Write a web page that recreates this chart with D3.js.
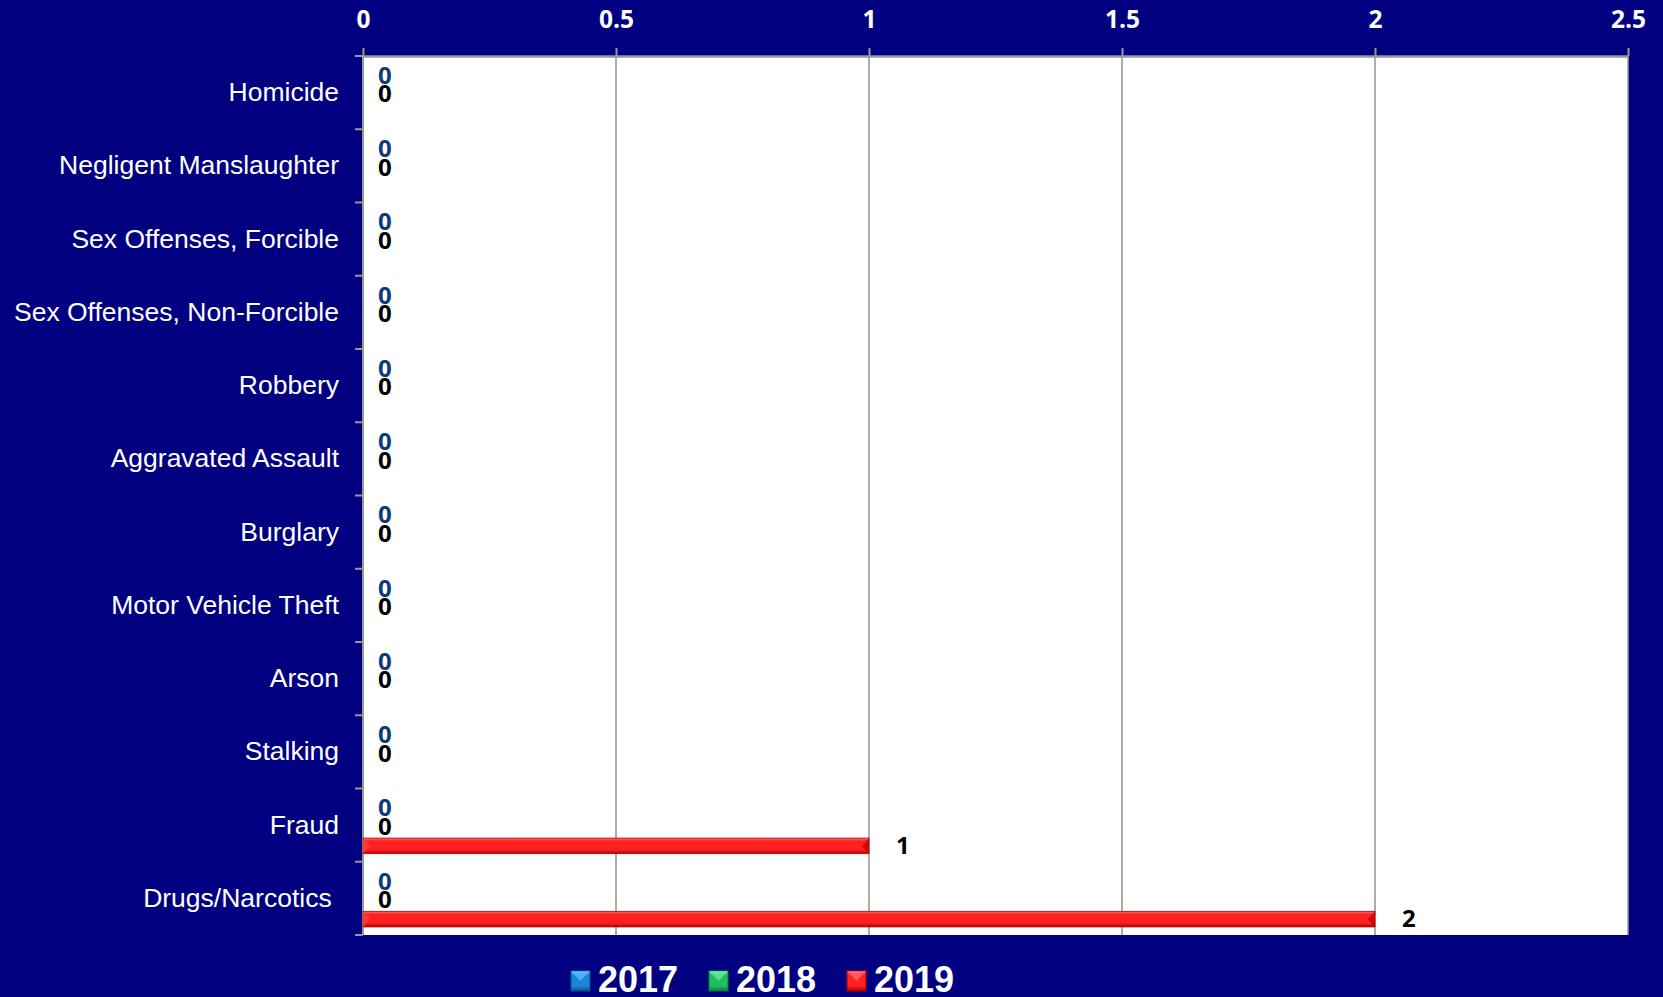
<!DOCTYPE html>
<html>
<head>
<meta charset="utf-8">
<script src="https://cdn.jsdelivr.net/npm/d3@7"></script>
<style>
  html, body { margin: 0; padding: 0; background: #000080; }
  svg { display: block; }
</style>
</head>
<body>
<svg id="chart" width="1663" height="997"></svg>
<script>
const categories = ["Homicide", "Negligent Manslaughter", "Sex Offenses, Forcible", "Sex Offenses, Non-Forcible",
  "Robbery", "Aggravated Assault", "Burglary", "Motor Vehicle Theft", "Arson", "Stalking", "Fraud", "Drugs/Narcotics "];
const series = ["2017", "2018", "2019"];
const values2017 = [0, 0, 0, 0, 0, 0, 0, 0, 0, 0, 0, 0];
const values2018 = [0, 0, 0, 0, 0, 0, 0, 0, 0, 0, 0, 0];
const values2019 = [0, 0, 0, 0, 0, 0, 0, 0, 0, 0, 1, 2];
const xTicks = [0, 0.5, 1, 1.5, 2, 2.5];

const seriesValues = { "2017": values2017, "2018": values2018, "2019": values2019 };
const seriesColors = {
  "2017": ["#5cc0ff", "#1a86d6", "#0b4f8a"],
  "2018": ["#6ff0a0", "#1fbf5c", "#0b7a38"],
  "2019": ["#ff7070", "#ff2020", "#a80000"]
};
const labelColors = { "2017": "#0f3a78", "2018": "#000000", "2019": "#000000" };

const svg = d3.select("#chart");
const W = 1663, H = 997;
const plot = { left: 363, right: 1628, top: 56, bottom: 935 };

svg.append("rect").attr("width", W).attr("height", H).attr("fill", "#000080");

const defs = svg.append("defs");
series.forEach(s => {
  const c = seriesColors[s];
  const g = defs.append("linearGradient").attr("id", "grad" + s)
    .attr("x1", 0).attr("y1", 0).attr("x2", 0).attr("y2", 1);
  g.append("stop").attr("offset", "0%").attr("stop-color", c[0]);
  g.append("stop").attr("offset", "20%").attr("stop-color", c[1]);
  g.append("stop").attr("offset", "75%").attr("stop-color", c[1]);
  g.append("stop").attr("offset", "100%").attr("stop-color", c[2]);
});

const x = d3.scaleLinear().domain([0, 2.5]).range([plot.left, plot.right]);
const y = d3.scaleBand().domain(categories).range([plot.top, plot.bottom]).padding(0);
const bw = y.bandwidth();
const ySub = d3.scaleBand().domain(series).range([bw * 0.25, bw * 0.89]).padding(0);

// plot area
svg.append("rect")
  .attr("x", plot.left).attr("y", plot.top)
  .attr("width", plot.right - plot.left).attr("height", plot.bottom - plot.top)
  .attr("fill", "#ffffff");

// gridlines
svg.append("g").selectAll("line").data(xTicks).join("line")
  .attr("x1", d => x(d)).attr("x2", d => x(d))
  .attr("y1", plot.top).attr("y2", plot.bottom)
  .attr("stroke", "#999999").attr("stroke-width", 1.6);

// top axis
const xAxis = svg.append("g").attr("transform", `translate(0,${plot.top})`)
  .call(d3.axisTop(x).tickValues(xTicks).tickFormat(d => d).tickSize(8).tickPadding(20).tickSizeOuter(0));
xAxis.select(".domain").attr("stroke", "#999999").attr("stroke-width", 2.5);
xAxis.selectAll(".tick line").attr("stroke", "#999999").attr("stroke-width", 2);
xAxis.selectAll(".tick text")
  .attr("fill", "#ffffff").attr("font-family", "'Open Sans', Lato, sans-serif")
  .attr("font-weight", "bold").attr("font-size", 24.5);

// left axis line and boundary ticks
svg.append("line")
  .attr("x1", plot.left).attr("x2", plot.left).attr("y1", plot.top).attr("y2", plot.bottom)
  .attr("stroke", "#999999").attr("stroke-width", 2);
const boundaries = categories.map(c => y(c)).concat([plot.bottom]);
svg.append("g").selectAll("line").data(boundaries).join("line")
  .attr("x1", plot.left - 8).attr("x2", plot.left)
  .attr("y1", d => d).attr("y2", d => d)
  .attr("stroke", "#999999").attr("stroke-width", 2);

const yAxis = svg.append("g").attr("transform", `translate(${plot.left},0)`)
  .call(d3.axisLeft(y).tickSize(0).tickPadding(24));
yAxis.select(".domain").remove();
yAxis.selectAll(".tick text")
  .attr("fill", "#ffffff").attr("font-family", "'Liberation Sans', Arial, sans-serif")
  .attr("font-size", 26.5).style("white-space", "pre");

// bars
const barData = [];
series.forEach(s => {
  categories.forEach((c, i) => barData.push({ s, c, v: seriesValues[s][i] }));
});
const nonZero = barData.filter(d => d.v > 0);

svg.append("g").selectAll("rect").data(nonZero).join("rect")
  .attr("x", x(0))
  .attr("y", d => y(d.c) + ySub(d.s))
  .attr("width", d => x(d.v) - x(0))
  .attr("height", ySub.bandwidth())
  .attr("fill", d => `url(#grad${d.s})`)
  .attr("stroke", d => seriesColors[d.s][2]).attr("stroke-width", 0.8);

// bevel at bar ends
svg.append("g").selectAll("path").data(nonZero).join("path")
  .attr("d", d => {
    const x1 = x(d.v), y0 = y(d.c) + ySub(d.s), h = ySub.bandwidth();
    return `M${x1},${y0} L${x1 - 7},${y0 + h / 2} L${x1},${y0 + h} Z`;
  })
  .attr("fill", "#c80000").attr("opacity", 0.8);
svg.append("g").selectAll("path").data(nonZero).join("path")
  .attr("d", d => {
    const x0 = x(0), y0 = y(d.c) + ySub(d.s), h = ySub.bandwidth();
    return `M${x0},${y0} L${x0 + 7},${y0 + h / 2} L${x0},${y0 + h} Z`;
  })
  .attr("fill", "#ff4040").attr("opacity", 0.8);

// data labels
const labelOffset = { "2017": -7, "2018": -4, "2019": -1 };
const labelData = barData.filter(d => d.s !== "2019" || d.v > 0);
svg.append("g").selectAll("text").data(labelData).join("text")
  .attr("x", d => d.v > 0 ? x(d.v) + 27 : x(0) + 15)
  .attr("y", d => y(d.c) + ySub(d.s) + ySub.bandwidth() / 2 + labelOffset[d.s])
  .attr("dy", "0.36em")
  .attr("fill", d => labelColors[d.s])
  .attr("font-family", "'Open Sans', Lato, sans-serif")
  .attr("font-weight", "bold").attr("font-size", 24)
  .text(d => d.v);

// legend
const legend = svg.append("g");
const legendX = d3.scalePoint().domain(series).range([571, 847]);
const items = legend.selectAll("g").data(series).join("g")
  .attr("transform", d => `translate(${legendX(d)},0)`);
items.append("rect")
  .attr("x", 0).attr("y", 971).attr("width", 19).attr("height", 20)
  .attr("fill", d => `url(#grad${d})`)
  .attr("stroke", d => seriesColors[d][2]).attr("stroke-width", 1);
items.append("path")
  .attr("d", "M0,971 L9.5,981 L19,971 Z")
  .attr("fill", d => seriesColors[d][0]).attr("opacity", 0.7);
items.append("text")
  .attr("x", 27).attr("y", 992)
  .attr("fill", "#ffffff").attr("font-family", "'Liberation Sans', Arial, sans-serif")
  .attr("font-weight", "bold").attr("font-size", 36)
  .text(d => d);
</script>
</body>
</html>
